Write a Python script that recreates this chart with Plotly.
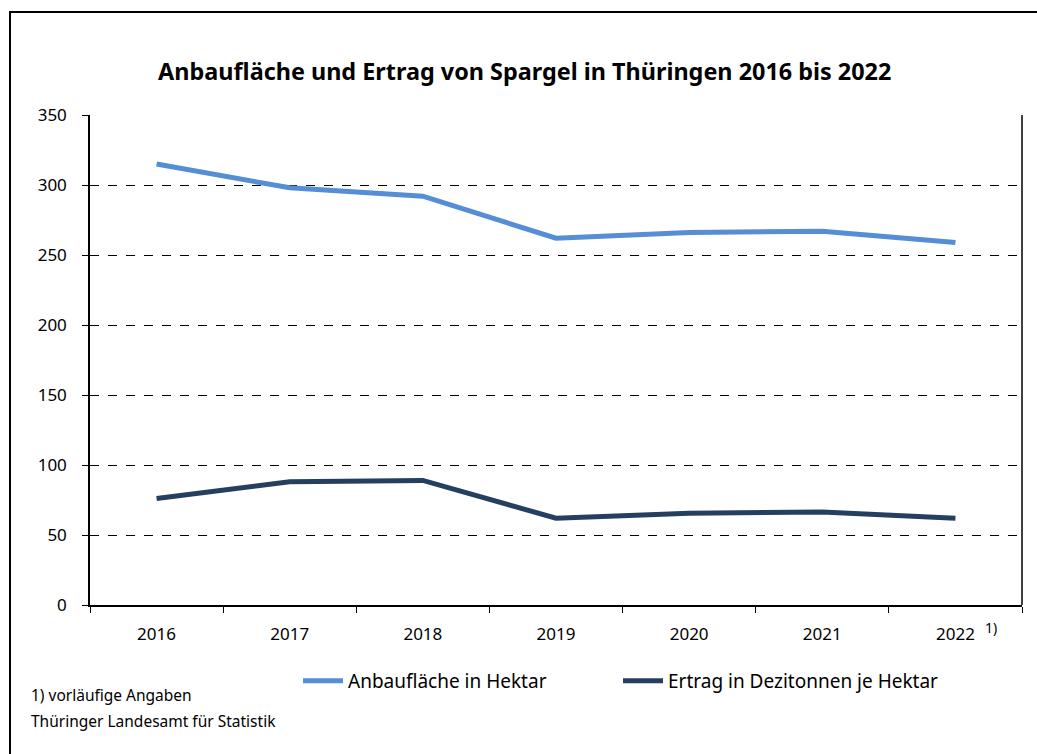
import plotly.graph_objects as go

years = ["2016", "2017", "2018", "2019", "2020", "2021", "2022"]
anbauflaeche = [315, 298, 292, 262, 266, 267, 259]
ertrag = [76, 88, 89, 62, 65.5, 66.5, 62]
y_ticks = [0, 50, 100, 150, 200, 250, 300, 350]

W, H = 1037, 754
ml, mr, mt, mb = 90, 15, 115, 149
pw, ph = W - ml - mr, H - mt - mb

def px(x):
    return (x - ml) / pw

def py(y):
    return (H - mb - y) / ph

font_fam = "Noto Sans, Open Sans, sans-serif"

fig = go.Figure()
fig.add_trace(go.Scatter(x=years, y=anbauflaeche, mode="lines", name="Anbaufläche in Hektar",
                         line=dict(color="#558ED5", width=5), legend="legend"))
fig.add_trace(go.Scatter(x=years, y=ertrag, mode="lines", name="Ertrag in Dezitonnen je Hektar",
                         line=dict(color="#243F60", width=5), legend="legend2"))

leg_common = dict(orientation="h", yanchor="middle", xanchor="left", font=dict(size=19),
                  itemwidth=40, bgcolor="rgba(0,0,0,0)")

fig.update_layout(
    width=W, height=H,
    margin=dict(l=ml, r=mr, t=mt, b=mb),
    paper_bgcolor="white", plot_bgcolor="white",
    font=dict(family=font_fam, size=17, color="black"),
    title=dict(text="<b>Anbaufläche und Ertrag von Spargel in Thüringen 2016 bis 2022</b>",
               x=0.506, xanchor="center", y=1 - 72 / H, yanchor="middle",
               font=dict(size=23.4, family=font_fam, color="black")),
    showlegend=True,
    legend=dict(x=px(298), y=py(681), **leg_common),
    legend2=dict(x=px(618), y=py(681), **leg_common),
    xaxis=dict(type="category", range=[-0.5, 6.5], showline=True, linecolor="black", linewidth=1.5,
               ticks="outside", tickson="boundaries", ticklen=6, tickcolor="black",
               showgrid=False, tickfont=dict(size=17), ticklabelstandoff=13, fixedrange=True),
    yaxis=dict(range=[0, 350], tickvals=y_ticks, showline=True, linecolor="black", linewidth=1.5,
               ticks="outside", ticklen=6, tickcolor="black",
               showgrid=True, gridcolor="black", gridwidth=1, griddash="dash",
               tickfont=dict(size=17), zeroline=False, ticklabelstandoff=12),
)

# right border of plot area
fig.add_shape(type="line", xref="paper", yref="paper", x0=1, x1=1, y0=0, y1=1,
              line=dict(color="black", width=1.5))
# outer chart frame (only top and left edges are visible)
fig.add_shape(type="rect", xref="paper", yref="paper",
              x0=px(10), x1=px(1080), y0=py(800), y1=py(12),
              line=dict(color="black", width=2), layer="below")

fig.add_annotation(text="1)", xref="paper", yref="paper", x=px(983), y=py(627),
                   xanchor="left", yanchor="middle", showarrow=False, font=dict(size=14))
fig.add_annotation(text="1) vorläufige Angaben", xref="paper", yref="paper", x=px(29), y=py(695),
                   xanchor="left", yanchor="middle", showarrow=False, font=dict(size=15.5))
fig.add_annotation(text="Thüringer Landesamt für Statistik", xref="paper", yref="paper",
                   x=px(29), y=py(721), xanchor="left", yanchor="middle", showarrow=False,
                   font=dict(size=15.5))

fig.write_html("out.html", config={"displayModeBar": False},
               post_script="document.body.style.margin='0px';document.body.style.overflow='hidden';")
